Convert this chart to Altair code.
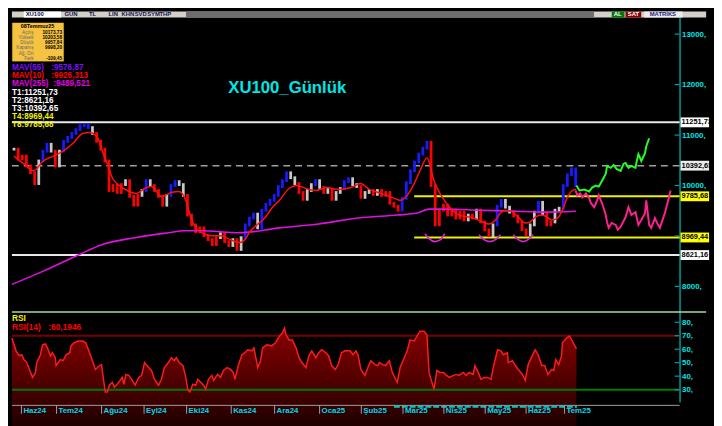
import altair as alt
import pandas as pd

FONT = "Liberation Sans"

# ---------------- data ----------------
# one bar = 2 trading days, index 0 .. 136
closes = [10720, 10525, 10583, 10388, 10252, 10038, 10486, 10681, 10817, 10681,
          10388, 10681, 10876, 10954, 11032, 11109, 11187, 11207, 11148, 11032,
          10876, 10720, 10486, 9901, 9999, 9862, 10018, 10096, 9784, 9609,
          9804, 9901, 10096, 9999, 9901, 9784, 9609, 9804, 9999, 10077,
          10018, 9804, 9414, 9219, 9082, 9160, 9004, 8927, 8829, 8966,
          9044, 8888, 8810, 8927, 8732, 8966, 9219, 9355, 9433, 9160,
          9511, 9628, 9706, 9804, 9979, 10096, 10252, 10154, 10038, 9862,
          9726, 9901, 10018, 10096, 9960, 9862, 9921, 9726, 9862, 9940,
          10077, 10135, 10018, 9979, 9765, 9862, 9901, 9823, 9901, 9804,
          9862, 9648, 9589, 9511, 9745, 10057, 10291, 10466, 10622, 10739,
          10856, 9999, 9219, 9511, 9609, 9414, 9511, 9355, 9472, 9316,
          9414, 9355, 9511, 9277, 9121, 9004, 9219, 9589, 9706, 9570,
          9472, 9394, 9277, 9121, 9024, 9219, 9472, 9667, 9433, 9219,
          9277, 9511, 9550, 9999, 10213, 10330, 9998.20]
candle_colors = list("wrrrrrwbbw" "rwbbbbbbbw" "rrrrrrrwrr" "rwbwrrrwbb" "wwrrrrrrrr"
                     "wrrwrwbbbw" "bbbbbbbwwr" "rwwbwrwrww" "bbwwrwwrwr" "rrrrbbbbbb"
                     "brrrrrrrrr" "wrwrrrwbbw" "wrrrrwwbwr" "rwwbbbb")

ma10_t = [0, 2.4, 4.7, 7.1, 9.5, 11.9, 14.3, 16.6, 18.3, 20.2, 21.4, 22.6, 23.8, 25.5, 27.4,
          29.7, 31.6, 33.3, 35.7, 38.1, 39.9, 41.6, 42.8, 44.0, 45.2, 47.6, 50.0, 52.4, 54.7,
          55.9, 57.1, 58.8, 60.7, 62.6, 64.3, 66.6, 68.5, 70.7, 73.1, 75.7, 78.5, 81.6, 84.0,
          85.7, 88.8, 92.1, 93.5, 95.2, 96.9, 98.3, 100.0, 101.7, 102.4, 104.7, 107.8, 111.2,
          113.5, 114.9, 116.6, 117.8, 119.0, 120.7, 122.1, 123.8, 125.0, 126.2, 127.8, 129.0,
          130.2, 131.6, 132.8, 134.0, 135.2, 136.1]
ma10_v = [10583, 10427, 10291, 10486, 10583, 10681, 10837, 11032, 11051, 10954, 10681, 10427,
          10154, 9999, 9901, 9843, 9940, 9979, 9784, 9862, 9882, 9706, 9375, 9160, 9082, 9004,
          9004, 8927, 8868, 8927, 9082, 9219, 9355, 9570, 9706, 9940, 9999, 9940, 9901, 9960,
          9921, 9960, 10038, 9940, 9843, 9745, 9706, 9804, 10038, 10291, 10544, 10096, 9960,
          9648, 9414, 9355, 9277, 9238, 9316, 9453, 9511, 9472, 9375, 9258, 9277, 9375, 9414,
          9375, 9316, 9355, 9511, 9765, 9901, 9926.31]

ma255_t = [-0.5, 7.1, 15.9, 21.4, 29.3, 37.4, 41.2, 45.2, 54.7, 64.3, 73.8, 83.3, 92.8, 97.6,
           100.5, 104.7, 112.6, 120.7, 128.6, 136.1]
ma255_v = [8040, 8303, 8634, 8829, 8966, 9063, 9102, 9102, 9063, 9160, 9238, 9355, 9414, 9453,
           9531, 9531, 9511, 9492, 9472, 9489.52]

rsi_t = [-0.5, 0.5, 1.2, 1.9, 2.4, 3.1, 4.0, 4.5, 5.2, 5.5,
         6.4, 6.9, 7.6, 8.1, 8.8, 9.3, 10.0, 10.2, 11.2, 11.9,
         12.6, 13.5, 13.8, 14.5, 15.5, 16.6, 17.4, 18.3, 19.0, 19.7,
         20.7, 21.2, 21.6, 22.1, 22.6, 23.1, 23.8, 24.3, 25.0, 25.7,
         26.2, 26.6, 27.1, 27.8, 28.5, 29.3, 30.2, 30.9, 31.6, 32.6,
         33.3, 34.0, 35.0, 35.7, 36.4, 37.4, 38.1, 38.8, 39.3, 40.0,
         40.9, 41.6, 42.1, 42.6, 43.3, 44.0, 44.5, 45.2, 45.9, 46.4,
         47.1, 47.9, 48.3, 49.3, 50.0, 50.7, 51.6, 52.4, 53.1, 53.5,
         54.3, 55.2, 55.9, 56.6, 57.6, 58.1, 58.8, 59.0, 59.7, 60.2,
         61.2, 62.4, 63.3, 64.3, 65.0, 65.5, 65.9, 66.6, 67.4, 68.3,
         69.0, 69.7, 70.7, 71.4, 72.1, 73.1, 73.8, 74.5, 75.5, 76.2,
         76.9, 77.8, 78.5, 79.3, 80.2, 81.4, 82.1, 82.8, 83.3, 84.0,
         85.0, 85.7, 86.4, 87.4, 88.1, 88.5, 89.3, 90.0, 90.9, 91.6,
         92.4, 92.8, 93.5, 94.5, 95.2, 95.9, 96.9, 97.6, 98.3, 99.3,
         100.0, 100.5, 100.7, 101.7, 102.4, 103.1, 104.0, 104.7, 105.5, 106.4,
         107.1, 107.8, 108.8, 109.5, 110.2, 111.2, 111.6, 112.4, 113.1, 113.8,
         114.7, 115.5, 116.2, 117.1, 117.9, 118.5, 119.5, 119.7, 120.7, 121.4,
         122.1, 123.1, 123.8, 124.5, 125.5, 126.2, 126.9, 127.8, 128.5, 129.3,
         130.2, 130.7, 131.2, 131.9, 132.6, 132.8, 133.8, 134.5, 135.2, 136.2]
rsi_v = [68.3, 58.8, 55.2, 55.9, 52.3, 50.1, 42.8, 39.1, 42.8, 50.1,
         55.9, 63.2, 63.9, 61.0, 55.2, 57.4, 53.7, 47.9, 52.3, 51.5,
         55.9, 57.4, 62.5, 64.7, 66.1, 66.1, 64.7, 57.4, 51.5, 45.0,
         47.9, 48.6, 39.1, 28.2, 28.2, 33.3, 35.5, 31.8, 34.0, 36.9,
         39.1, 34.0, 41.3, 40.6, 37.7, 33.3, 39.1, 40.6, 50.1, 46.4,
         44.2, 37.7, 33.3, 37.7, 46.4, 50.1, 53.7, 51.5, 53.7, 50.1,
         47.9, 39.1, 29.6, 28.2, 34.0, 33.3, 37.7, 35.5, 33.3, 30.4,
         37.7, 40.6, 36.9, 41.3, 39.1, 44.2, 46.4, 45.0, 42.8, 37.7,
         47.9, 55.9, 57.4, 59.6, 58.8, 61.0, 50.1, 46.4, 51.5, 61.0,
         63.2, 62.5, 64.7, 69.8, 72.0, 75.6, 70.5, 66.9, 66.9, 61.0,
         53.7, 50.1, 46.4, 55.2, 58.8, 53.7, 57.4, 59.6, 57.4, 55.2,
         47.9, 45.0, 48.6, 57.4, 58.8, 58.8, 55.9, 58.8, 55.9, 45.0,
         40.6, 46.4, 51.5, 48.6, 47.9, 50.1, 48.6, 47.9, 51.5, 42.8,
         37.7, 35.5, 46.4, 53.7, 58.8, 66.9, 66.1, 69.8, 73.4, 73.4,
         70.5, 42.8, 40.6, 30.4, 44.2, 42.8, 42.8, 40.6, 39.1, 40.6,
         41.3, 40.6, 42.8, 40.6, 42.8, 41.3, 47.9, 42.8, 37.7, 39.1,
         39.1, 37.7, 48.6, 59.6, 58.8, 55.9, 57.4, 50.1, 51.5, 47.9,
         45.0, 41.3, 36.9, 48.6, 55.2, 59.6, 55.9, 47.9, 47.9, 41.3,
         45.0, 44.2, 52.3, 48.6, 55.2, 64.7, 68.3, 69.8, 66.1, 60.19]

fc_up_t = [136.2, 136.9, 138.1, 139.3, 140.0, 140.9, 141.6, 142.4, 143.3, 143.6, 144.5, 145.2,
           145.9, 146.9, 147.6, 148.1, 148.8, 149.5, 150.5, 150.7, 151.2, 151.9, 152.8, 153.1, 153.8]
fc_up_v = [9999, 9901, 9921, 9882, 9960, 9999, 9979, 10096, 10232, 10388, 10349, 10408, 10330,
           10291, 10427, 10447, 10349, 10388, 10349, 10447, 10622, 10486, 10642, 10778, 10934]
fc_dn_t = [136.0, 136.4, 137.1, 137.6, 138.5, 139.3, 139.7, 140.5, 141.2, 141.6, 142.4, 143.3,
           143.6, 144.0, 144.7, 145.7, 146.2, 146.9, 148.1, 148.8, 149.5, 150.5, 151.2, 151.9,
           152.8, 153.1, 153.8, 154.3, 155.2, 155.7, 156.4, 157.6, 158.3, 159.0]
fc_dn_v = [9901, 9804, 9843, 9765, 9843, 9745, 9648, 9570, 9706, 9804, 9648, 9414, 9277, 9160,
           9258, 9219, 9121, 9180, 9375, 9570, 9414, 9472, 9219, 9316, 9453, 9706, 9219, 9160,
           9355, 9258, 9160, 9453, 9667, 9901]

cup_id = [1] * 5 + [2] * 5 + [3] * 5
cup_t = [99.5, 100.5, 101.9, 103.3, 104.3, 112.6, 113.8, 115.2, 116.6, 117.8,
         120.9, 122.1, 123.3, 124.5, 125.7]
cup_v = [9044, 8946, 8888, 8927, 9044, 9024, 8927, 8888, 8927, 9024,
         9024, 8927, 8888, 8927, 9024]

level_names = ["T1", "T2", "T3", "T4", "T8"]
level_values = [11251.73, 8621.16, 10392.65, 8969.44, 9785.68]

month_labels = ["Haz24", "Tem24", "Ağu24", "Eyl24", "Eki24", "Kas24", "Ara24", "Oca25",
                "Şub25", "Mar25", "Nis25", "May25", "Haz25", "Tem25"]
month_pos = [1.8, 10.3, 21.2, 31.5, 41.8, 52.6, 63.1, 74.0, 84.1, 94.2, 104.1, 114.1, 124.0, 133.3]

price_ticks = [8000, 9000, 10000, 11000, 12000, 13000]
rsi_ticks = [30, 40, 50, 60, 70, 80]

info_date = "08Temmuz25"
info_labels = ["Açılış", "Yüksek", "Düşük", "Kapanış", "Ağ. Ort", "Fark"]
info_values = ["10173,73", "10203,58", "9957,84", "9998,20", "", "-109,45"]

mav_names = ["MAV(55)", "MAV(10)", "MAV(255)"]
mav_values = [":9576,87", ":9926,313", ":9489,521"]
rsi_name, rsi_last = "RSI(14)", ":60,1946"
toolbar_items = ["XU100", "GUN", "TL", "LIN", "KHN", "SVD", "SYM", "THP"]

# ---------------- layout ----------------
W, FULL_W = 679, 706
H_TOOL, H_MAIN, H_RSI, H_LAB = 6, 299, 92, 12
XMAX = 161.17

xs = alt.Scale(domain=[-0.5, XMAX], nice=False, zero=False)
ys = alt.Scale(domain=[7503, 13331], nice=False, zero=False)
rs = alt.Scale(domain=[20.9, 88.0], nice=False, zero=False)

main_axis = alt.Axis(orient="right", values=price_ticks, labelExpr="datum.value + ','",
                     labelColor="#00e5e5", labelFont=FONT, labelFontSize=8, labelFontWeight="bold",
                     labelPadding=2, ticks=False, domainColor="#007878", domainWidth=2,
                     grid=False, title=None, labelOverlap=False)
rsi_axis = alt.Axis(orient="right", values=rsi_ticks, labelExpr="datum.value + ','",
                    labelColor="#00e5e5", labelFont=FONT, labelFontSize=8, labelFontWeight="bold",
                    labelPadding=2, ticks=False, domainColor="#007878", domainWidth=2,
                    grid=False, title=None, labelOverlap=False)


def X(f):
    return alt.X(f, type="quantitative", scale=xs, axis=None)


def Y(f):
    return alt.Y(f, type="quantitative", scale=ys, axis=main_axis)


def R(f):
    return alt.Y(f, type="quantitative", scale=rs, axis=rsi_axis)


ONE = pd.DataFrame({"k": [0]})


def txt(s, px, py, color, size=8.0, bold=True, align="left"):
    return alt.Chart(ONE).mark_text(
        text=s, align=align, baseline="middle", font=FONT, fontSize=size,
        fontWeight="bold" if bold else "normal", color=color
    ).encode(x=alt.value(px), y=alt.value(py))


def box(x0, x1, y0, y1, fill, stroke=None, sw=0.0):
    kw = dict(color=fill)
    if stroke:
        kw.update(stroke=stroke, strokeWidth=sw)
    return alt.Chart(ONE).mark_rect(**kw).encode(
        x=alt.value(x0), x2=alt.value(x1), y=alt.value(y0), y2=alt.value(y1))


# ---------------- toolbar ----------------
tool_layers = [box(0, FULL_W, 0, H_TOOL, "#d4d0c8"),
               box(12, 50, 0, H_TOOL, "#ffffff"),
               box(177, 592, 0, H_TOOL, "#6e6e6e"),
               box(610, 623, 0, H_TOOL, "#007a00"),
               box(624, 640, 0, H_TOOL, "#8b0000"),
               box(643, 682, 0, H_TOOL, "#ececec")]
tool_x = [14, 60, 82, 103, 118, 131, 144, 156]
for item, px in zip(toolbar_items, tool_x):
    tool_layers.append(txt(item, px, 3, "#101050", 6, True, "left" if item == "XU100" else "center"))
tool_layers += [txt("AL", 616, 3, "#ffffff", 6, True, "center"),
                txt("SAT", 632, 3, "#ffffff", 6, True, "center"),
                txt("MATRİKS", 662, 3, "#202080", 6, True, "center")]
toolbar = alt.layer(*tool_layers).properties(width=FULL_W, height=H_TOOL)

# ---------------- main price panel ----------------
opens = [closes[0]] + closes[:-1]
candles = pd.DataFrame({"t": list(range(len(closes))), "open": opens, "close": closes,
                        "c": candle_colors})

main_layers = []

# horizontal levels
lvl_style = {"T1": ("#e8e8e8", None), "T2": ("#e8e8e8", None), "T3": ("#a0a0a0", [7, 5]),
             "T4": ("#f0f000", None), "T8": ("#f0f000", None)}
lvl_start = {"T1": -0.5, "T2": -0.5, "T3": -0.5, "T4": 96.9, "T8": 96.9}
for name, v in zip(level_names, level_values):
    col, dash = lvl_style[name]
    kw = dict(color=col, strokeWidth=2 if dash is None else 1.6)
    if dash:
        kw["strokeDash"] = dash
    d = pd.DataFrame({"x0": [lvl_start[name]], "x1": [XMAX], "v": [v]})
    main_layers.append(alt.Chart(d).mark_rule(**kw).encode(x=X("x0"), x2="x1", y=Y("v")))

main_layers.append(
    alt.Chart(candles).mark_rule(strokeWidth=2.8, strokeCap="square").encode(
        x=X("t"), y=Y("open"), y2="close",
        color=alt.Color("c:N", scale=alt.Scale(domain=["b", "r", "w"],
                                               range=["#1a1aff", "#ff0000", "#c8c8c8"]),
                        legend=None)))

main_layers.append(
    alt.Chart(pd.DataFrame({"t": ma255_t, "v": ma255_v})).mark_line(
        color="#e010e0", strokeWidth=1.6, interpolate="monotone").encode(x=X("t"), y=Y("v")))
main_layers.append(
    alt.Chart(pd.DataFrame({"t": ma10_t, "v": ma10_v})).mark_line(
        color="#ff1010", strokeWidth=1.5, interpolate="monotone").encode(x=X("t"), y=Y("v")))
main_layers.append(
    alt.Chart(pd.DataFrame({"cup": cup_id, "t": cup_t, "v": cup_v})).mark_line(
        color="#e020e0", strokeWidth=1.6, interpolate="monotone").encode(
        x=X("t"), y=Y("v"), detail="cup:N"))
main_layers.append(
    alt.Chart(pd.DataFrame({"t": fc_dn_t, "v": fc_dn_v})).mark_line(
        color="#ff2090", strokeWidth=2).encode(x=X("t"), y=Y("v")))
main_layers.append(
    alt.Chart(pd.DataFrame({"t": fc_up_t, "v": fc_up_v})).mark_line(
        color="#22ff22", strokeWidth=2).encode(x=X("t"), y=Y("v")))

# inward axis ticks
main_layers.append(
    alt.Chart(pd.DataFrame({"v": price_ticks})).mark_rule(color="#00a0a0", strokeWidth=1.2).encode(
        x=alt.value(W - 5), x2=alt.value(W), y=Y("v")))

# right-hand level boxes
box_col = {"T1": "#ffffff", "T2": "#ffffff", "T3": "#ececec", "T4": "#ffff00", "T8": "#ffff00"}
for name, v in zip(level_names, level_values):
    d = pd.DataFrame({"v": [v], "lab": [f"{v:.2f}".replace(".", ",")]})
    main_layers.append(alt.Chart(d).mark_rule(color=box_col[name], strokeWidth=10).encode(
        x=alt.value(W + 1), x2=alt.value(W + 30), y=Y("v")))
    main_layers.append(alt.Chart(d).mark_text(
        align="left", baseline="middle", font=FONT, fontSize=7.5, fontWeight="bold",
        color="#000000").encode(x=alt.value(W + 2), y=Y("v"), text="lab:N"))

# info box
main_layers.append(box(0, 53, 5, 45, "#f5c242", "#000000", 0.6))
main_layers.append(txt(info_date, 26, 9.2, "#000000", 5.5, True, "center"))
for k, (lab, val) in enumerate(zip(info_labels, info_values)):
    yy = 15.5 + k * 5.3
    main_layers.append(txt(lab, 22, yy, "#6a6a6a", 4.8, False, "right"))
    if val:
        main_layers.append(txt(val, 51, yy, "#000000", 4.8, True, "right"))

# legend texts
mav_cols = ["#7a10ff", "#ff0000", "#e000e0"]
mav_val_x = [40, 40, 42]
for k, (n, v) in enumerate(zip(mav_names, mav_values)):
    yy = 51 + k * 8.4
    main_layers.append(txt(n, 0, yy, mav_cols[k], 8.3))
    main_layers.append(txt(v, mav_val_x[k], yy, mav_cols[k], 8.3))
t_cols = {"T1": "#ffffff", "T2": "#ffffff", "T3": "#ffffff", "T4": "#f0f000", "T8": "#f0f000"}
for k, (n, v) in enumerate(zip(level_names, level_values)):
    yy = 76.5 + k * 8.2
    main_layers.append(txt(f"{n}:{v:.2f}".replace(".", ","), 0, yy, t_cols[n], 8.3))

# title
main_layers.append(txt("XU100_Günlük", 280, 72, "#00e5e5", 17, True, "center"))

main = alt.layer(*main_layers).properties(width=W, height=H_MAIN)

# ---------------- RSI panel ----------------
rsi_df = pd.DataFrame({"t": rsi_t, "v": rsi_v})
grad = alt.Gradient(gradient="linear",
                    stops=[alt.GradientStop(color="#8a0000", offset=0),
                           alt.GradientStop(color="#1a0000", offset=1)],
                    x1=1, x2=1, y1=0, y2=1)
rsi_layers = [
    alt.Chart(rsi_df).mark_area(color=grad).encode(x=X("t"), y=R("v"), y2=alt.value(H_RSI)),
    alt.Chart(ONE).mark_rule(color="#7a0000", strokeWidth=2).encode(
        x=alt.value(0), x2=alt.value(W), y=alt.Y(datum=70, scale=rs, axis=rsi_axis)),
    alt.Chart(ONE).mark_rule(color="#007a00", strokeWidth=2).encode(
        x=alt.value(0), x2=alt.value(W), y=alt.Y(datum=30, scale=rs, axis=rsi_axis)),
    alt.Chart(rsi_df).mark_line(color="#ff1a1a", strokeWidth=1.5).encode(x=X("t"), y=R("v")),
    alt.Chart(pd.DataFrame({"v": rsi_ticks})).mark_rule(color="#00a0a0", strokeWidth=1.2).encode(
        x=alt.value(W - 5), x2=alt.value(W), y=R("v")),
    alt.Chart(ONE).mark_rule(color="#a8d8a8", strokeWidth=1.5).encode(
        x=alt.value(0), x2=alt.value(FULL_W), y=alt.value(0.5)),
    txt("RSI", 0, 7, "#f0f000", 8.5),
    txt(rsi_name, 0, 16, "#ff0000", 8.5),
    txt(rsi_last, 37, 16, "#ff0000", 8.5),
]
rsi = alt.layer(*rsi_layers).properties(width=W, height=H_RSI)

# ---------------- date strip ----------------
mdf = pd.DataFrame({"t": month_pos, "m": month_labels})
lab_layers = [
    alt.Chart(ONE).mark_rule(color="#a0a0a0", strokeWidth=1).encode(
        x=alt.value(0), x2=alt.value(W), y=alt.value(3.5)),
    alt.Chart(ONE).mark_rule(color="#00c8c8", strokeWidth=2, strokeDash=[6, 2]).encode(
        x=alt.X(datum=92.0, scale=xs, axis=None), x2=alt.X2(datum=136.3), y=alt.value(5)),
    alt.Chart(mdf).mark_rule(color="#a0a0a0", strokeWidth=1).encode(
        x=X("t"), y=alt.value(3.5), y2=alt.value(H_LAB)),
    alt.Chart(mdf).mark_text(align="left", baseline="middle", dx=2, font=FONT, fontSize=8,
                             fontWeight="bold", color="#00d8e8").encode(
        x=X("t"), y=alt.value(9.5), text="m:N"),
]
xlab = alt.layer(*lab_layers).properties(width=W, height=H_LAB)

chart = alt.vconcat(toolbar, main, rsi, xlab, spacing=0, bounds="flush").properties(
    padding=0, background="#000000").configure_view(stroke=None)

chart.save("out.html", embed_options={"renderer": "svg", "actions": False})
